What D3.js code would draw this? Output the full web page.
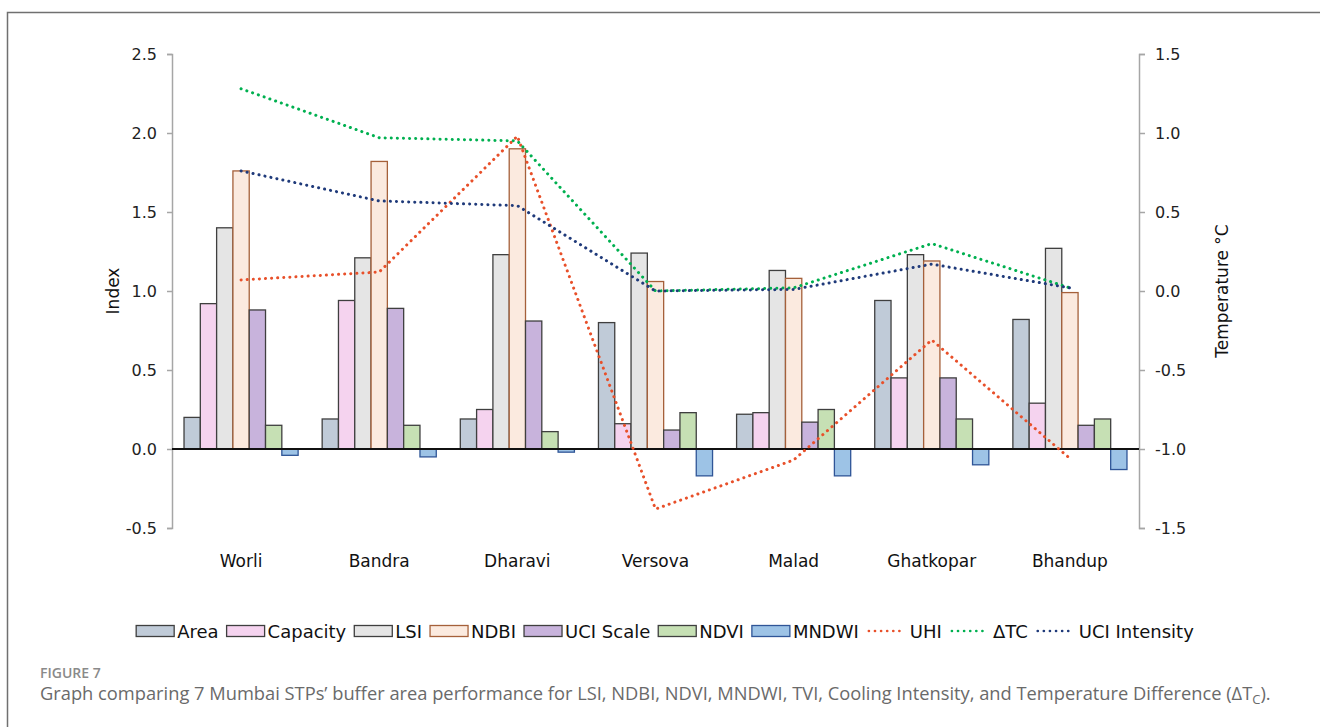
<!DOCTYPE html>
<html>
<head>
<meta charset="utf-8">
<script src="https://cdn.jsdelivr.net/npm/d3@7"></script>
<style>
  html, body { margin: 0; padding: 0; background: #fff; }
  svg { display: block; }
</style>
</head>
<body>
<svg id="chart" width="1320" height="727"></svg>
<script>
// Sites (STPs) along the x axis
const sites = ["Worli", "Bandra", "Dharavi", "Versova", "Malad", "Ghatkopar", "Bhandup"];

// Bar series (left axis, Index)
const barSeries = ["Area", "Capacity", "LSI", "NDBI", "UCI Scale", "NDVI", "MNDWI"];
const areaVals     = [0.20, 0.19, 0.19, 0.80, 0.22, 0.94, 0.82];
const capacityVals = [0.92, 0.94, 0.25, 0.16, 0.23, 0.45, 0.29];
const lsiVals      = [1.40, 1.21, 1.23, 1.24, 1.13, 1.23, 1.27];
const ndbiVals     = [1.76, 1.82, 1.90, 1.06, 1.08, 1.19, 0.99];
const uciScaleVals = [0.88, 0.89, 0.81, 0.12, 0.17, 0.45, 0.15];
const ndviVals     = [0.15, 0.15, 0.11, 0.23, 0.25, 0.19, 0.19];
const mndwiVals    = [-0.04, -0.05, -0.02, -0.17, -0.17, -0.10, -0.13];

// Line series (right axis, Temperature °C)
const lineSeries = ["UHI", "ΔTC", "UCI Intensity"];
const uhiVals    = [0.07, 0.12, 0.98, -1.38, -1.07, -0.31, -1.06];
const dtcVals    = [1.28, 0.97, 0.95, 0.00, 0.02, 0.30, 0.02];
const uciIntVals = [0.76, 0.57, 0.54, 0.00, 0.01, 0.17, 0.02];

// Axis ticks
const leftTicks  = [-0.5, 0.0, 0.5, 1.0, 1.5, 2.0, 2.5];
const rightTicks = [-1.5, -1.0, -0.5, 0.0, 0.5, 1.0, 1.5];

const barTable = [areaVals, capacityVals, lsiVals, ndbiVals, uciScaleVals, ndviVals, mndwiVals];
const lineTable = [uhiVals, dtcVals, uciIntVals];

const barStyle = {
  "Area":      { fill: "#c0cbd8", stroke: "#3f3f3f" },
  "Capacity":  { fill: "#f5d3ef", stroke: "#3f3f3f" },
  "LSI":       { fill: "#e5e5e5", stroke: "#3f3f3f" },
  "NDBI":      { fill: "#fbeadf", stroke: "#a5603a" },
  "UCI Scale": { fill: "#c8b3dc", stroke: "#3f3f3f" },
  "NDVI":      { fill: "#c6e0b4", stroke: "#3f3f3f" },
  "MNDWI":     { fill: "#9dc3e6", stroke: "#2f5597" }
};
const lineColor = { "UHI": "#e8502a", "ΔTC": "#00b050", "UCI Intensity": "#1f3a7a" };

const svg = d3.select("#chart");
const FONT = "'DejaVu Sans', Verdana, sans-serif";

// Figure frame
svg.append("path")
  .attr("d", "M7.5,727 L7.5,12.5 L1320,12.5")
  .attr("fill", "none").attr("stroke", "#707070").attr("stroke-width", 1.5);

const plot = { left: 172, right: 1139, top: 54, bottom: 528 };

const yL = d3.scaleLinear().domain([-0.5, 2.5]).range([plot.bottom, plot.top]);
const yR = d3.scaleLinear().domain([-1.5, 1.5]).range([plot.bottom, plot.top]);
const x0 = d3.scaleBand().domain(sites).range([plot.left, plot.right])
  .paddingInner(0.174).paddingOuter(0.087);
const x1 = d3.scaleBand().domain(barSeries).range([0, x0.bandwidth()]).padding(0);

// Axes
const fmt = d => d.toFixed(1);
const axL = svg.append("g").attr("transform", `translate(${plot.left},0)`)
  .call(d3.axisLeft(yL).tickValues(leftTicks).tickFormat(fmt).tickSize(5).tickSizeOuter(5).tickPadding(10));
const axR = svg.append("g").attr("transform", `translate(${plot.right},0)`)
  .call(d3.axisRight(yR).tickValues(rightTicks).tickFormat(fmt).tickSize(6).tickSizeOuter(6).tickPadding(10));
[axL, axR].forEach(ax => {
  ax.selectAll("path, line").attr("stroke", "#a6a6a6").attr("stroke-width", 1.5);
  ax.selectAll("text").attr("font-family", FONT).attr("font-size", 16).attr("fill", "#222");
});

// Axis titles
svg.append("text")
  .attr("transform", `translate(119,${(plot.top + plot.bottom) / 2}) rotate(-90)`)
  .attr("text-anchor", "middle").attr("font-family", FONT).attr("font-size", 17).attr("fill", "#111")
  .text("Index");
svg.append("text")
  .attr("transform", `translate(1228,${(plot.top + plot.bottom) / 2}) rotate(-90)`)
  .attr("text-anchor", "middle").attr("font-family", FONT).attr("font-size", 17).attr("fill", "#111")
  .text("Temperature °C");

// Bars
const groups = svg.append("g").selectAll("g").data(sites).join("g")
  .attr("transform", d => `translate(${x0(d)},0)`);
groups.selectAll("rect")
  .data((site, i) => barSeries.map((s, k) => ({ s, v: barTable[k][i] })))
  .join("rect")
  .attr("x", d => x1(d.s))
  .attr("width", x1.bandwidth())
  .attr("y", d => yL(Math.max(0, d.v)))
  .attr("height", d => Math.abs(yL(d.v) - yL(0)))
  .attr("fill", d => barStyle[d.s].fill)
  .attr("stroke", d => barStyle[d.s].stroke)
  .attr("stroke-width", 1.3);

// Zero baseline
svg.append("line")
  .attr("x1", plot.left).attr("x2", plot.right)
  .attr("y1", yL(0)).attr("y2", yL(0))
  .attr("stroke", "#111").attr("stroke-width", 2);

// Dotted lines on the right axis
const line = d3.line()
  .x((d, i) => x0(sites[i]) + x0.bandwidth() / 2)
  .y(d => yR(d));
lineSeries.forEach((name, k) => {
  svg.append("path")
    .datum(lineTable[k])
    .attr("d", line)
    .attr("fill", "none")
    .attr("stroke", lineColor[name])
    .attr("stroke-width", 3)
    .attr("stroke-linecap", "round")
    .attr("stroke-dasharray", "0.1 6");
});

// Category labels
svg.append("g").selectAll("text").data(sites).join("text")
  .attr("x", d => x0(d) + x0.bandwidth() / 2)
  .attr("y", 567)
  .attr("text-anchor", "middle")
  .attr("font-family", FONT).attr("font-size", 17).attr("fill", "#111")
  .text(d => d);

// Legend
const legendItems = barSeries.map(s => ({ name: s, type: "bar" }))
  .concat(lineSeries.map(s => ({ name: s, type: "line" })));
const legend = svg.append("g");
let cx = 0;
const ly = 631;
legendItems.forEach(it => {
  const g = legend.append("g").attr("transform", `translate(${cx},0)`);
  if (it.type === "bar") {
    g.append("rect").attr("x", 0).attr("y", ly - 5.5).attr("width", 38).attr("height", 11)
      .attr("fill", barStyle[it.name].fill).attr("stroke", barStyle[it.name].stroke).attr("stroke-width", 1.3);
  } else {
    g.append("line").attr("x1", 2).attr("x2", 37).attr("y1", ly).attr("y2", ly)
      .attr("stroke", lineColor[it.name]).attr("stroke-width", 2.6)
      .attr("stroke-linecap", "round").attr("stroke-dasharray", "0.1 6");
  }
  const tx = it.type === "bar" ? 41 : 43;
  const t = g.append("text").attr("x", tx).attr("y", ly + 6.5)
    .attr("font-family", FONT).attr("font-size", 18).attr("fill", "#111").text(it.name);
  cx += tx + t.node().getComputedTextLength() + 8;
});
const legendWidth = cx - 8;
legend.attr("transform", `translate(${665 - legendWidth / 2},0)`);

// Caption
svg.append("text").attr("x", 40).attr("y", 678)
  .attr("font-family", "'Open Sans', sans-serif").attr("font-size", 14).attr("font-weight", 600)
  .attr("fill", "#8a8a8a").text("FIGURE 7");
const cap = svg.append("text").attr("x", 40).attr("y", 700)
  .attr("font-family", "'Open Sans', sans-serif").attr("font-size", 18.3).attr("fill", "#6a6a6a");
cap.append("tspan").text("Graph comparing 7 Mumbai STPs’ buffer area performance for LSI, NDBI, NDVI, MNDWI, TVI, Cooling Intensity, and Temperature Difference (ΔT");
cap.append("tspan").attr("font-size", 13).attr("dy", 4).text("C");
cap.append("tspan").attr("dy", -4).text(").");
</script>
</body>
</html>
